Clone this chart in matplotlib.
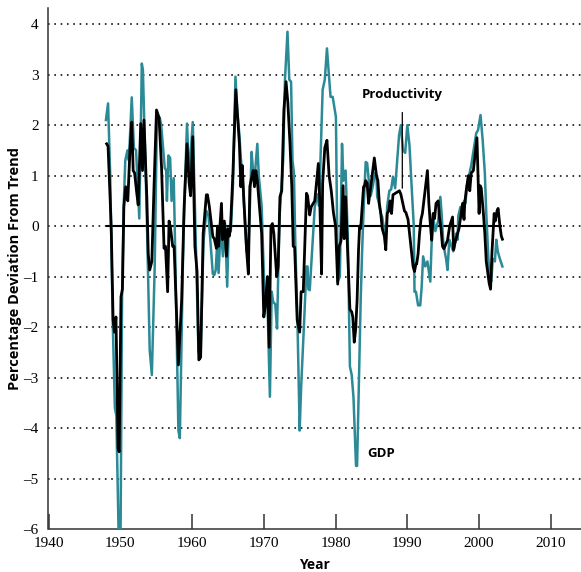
import matplotlib
matplotlib.use("Agg")
import matplotlib.pyplot as plt

# ---- data ----
gdp_years = [1948.0, 1948.3, 1948.6, 1948.95, 1949.25, 1949.45, 1949.8, 1950.0, 1950.05, 1950.25,
             1950.5, 1950.7, 1951.0, 1951.2, 1951.6, 1951.9, 1952.2, 1952.5, 1952.65, 1952.85,
             1953.0, 1953.15, 1953.7, 1954.1, 1954.4, 1954.8, 1955.1, 1955.5, 1955.7, 1956.2,
             1956.4, 1956.5, 1956.7, 1956.95, 1957.15, 1957.45, 1957.6, 1958.1, 1958.3, 1958.8,
             1959.3, 1959.6, 1960.1, 1960.4, 1960.9, 1961.2, 1961.6, 1962.0, 1962.3, 1962.9,
             1963.1, 1963.3, 1963.5, 1963.7, 1964.0, 1964.3, 1964.6, 1964.9, 1965.1, 1965.4,
             1965.7, 1966.05, 1966.3, 1966.6, 1966.8, 1967.0, 1967.3, 1967.6, 1967.85, 1968.3,
             1968.5, 1968.8, 1969.1, 1969.3, 1969.7, 1969.9, 1970.1, 1970.5, 1970.85, 1971.1,
             1971.3, 1971.6, 1971.85, 1972.0, 1972.2, 1972.7, 1972.95, 1973.2, 1973.3, 1973.55,
             1973.8, 1974.0, 1974.2, 1974.4, 1974.7, 1975.0, 1975.2, 1975.6, 1975.95, 1976.1,
             1976.2, 1976.4, 1977.1, 1977.5, 1977.7, 1978.2, 1978.5, 1978.8, 1979.3, 1979.6,
             1980.05, 1980.3, 1980.6, 1980.9, 1981.1, 1981.4, 1981.7, 1982.0, 1982.25, 1982.5,
             1982.85, 1983.0, 1983.2, 1983.5, 1983.7, 1983.9, 1984.2, 1984.4, 1984.7, 1984.9,
             1985.2, 1985.5, 1985.7, 1985.8, 1986.0, 1986.3, 1986.5, 1986.8, 1987.0, 1987.2,
             1987.5, 1987.75, 1988.0, 1988.3, 1988.85, 1989.1, 1989.4, 1989.7, 1990.0, 1990.3,
             1990.5, 1990.9, 1991.0, 1991.2, 1991.5, 1991.8, 1992.0, 1992.2, 1992.5, 1992.8,
             1993.2, 1993.4, 1993.6, 1993.9, 1994.3, 1994.6, 1994.8, 1995.0, 1995.2, 1995.4,
             1995.6, 1995.85, 1996.4, 1996.6, 1996.8, 1997.0, 1997.1, 1997.4, 1997.6, 1997.9,
             1998.1, 1998.3, 1998.6, 1998.9, 1999.6, 1999.85, 2000.2, 2000.5, 2000.8, 2001.0,
             2001.3, 2001.5, 2001.7, 2001.9, 2002.2, 2002.4, 2002.6, 2002.9, 2003.25]
gdp_values = [2.1, 2.43, 1.0, -1.9, -3.6, -3.75, -6.3, -6.3, -5.9, -1.4,
              0.5, 1.3, 1.5, 1.3, 2.55, 1.55, 1.5, 0.58, 0.15, 1.8,
              3.22, 3.1, 0.18, -2.45, -2.95, -0.8, 2.1, 2.15, 2.0, 1.15,
              1.1, 0.5, 1.4, 1.35, 0.5, 0.95, -0.1, -4.05, -4.2, -0.15,
              2.03, 1.0, 2.06, 0.4, -2.5, -2.5, -0.3, 0.3, 0.2, -0.95,
              -0.97, -0.87, -0.35, -0.93, 0.0, -0.6, 0.05, -1.2, -0.1, -0.1,
              0.8, 2.96, 2.3, 1.8, 1.35, 1.05, 0.25, -0.5, -0.6, 1.47,
              1.1, 1.1, 1.63, 1.0, 0.4, -0.5, -1.3, -1.45, -3.38, -1.3,
              -1.5, -1.55, -2.03, -1.0, 0.2, 1.3, 2.9, 3.6, 3.85, 2.9,
              2.86, 1.3, 1.05, -0.4, -1.95, -4.05, -3.2, -1.95, -0.8, -0.8,
              -1.25, -1.27, 0.38, 0.63, 0.4, 2.7, 2.9, 3.52, 2.56, 2.56,
              2.16, -1.1, -1.0, 1.63, 0.9, 1.1, -0.2, -2.78, -2.95, -3.4,
              -4.75, -4.75, -3.4, -1.47, -0.5, 0.3, 1.27, 1.25, 0.8, 0.6,
              0.8, 1.05, 1.0, 0.58, 0.48, 0.25, 0.18, -0.1, -0.3, 0.4,
              0.7, 0.73, 0.98, 0.75, 1.8, 2.0, 1.5, 1.45, 2.0, 1.6,
              1.05, 0.0, -1.3, -1.3, -1.57, -1.57, -1.2, -0.6, -0.8, -0.7,
              -1.1, -0.28, 0.18, -0.1, 0.1, 0.58, 0.2, -0.3, -0.5, -0.65,
              -0.87, -0.27, -0.5, -0.4, -0.15, -0.27, 0.2, 0.38, 0.2, 0.5,
              0.45, 0.8, 1.0, 1.2, 1.84, 1.9, 2.2, 1.7, 1.05, 0.25,
              -0.65, -1.05, -1.1, -0.65, -0.7, -0.27, -0.5, -0.65, -0.8]

prod_years = [1948.1, 1948.3, 1948.6, 1948.75, 1949.0, 1949.2, 1949.4, 1949.7, 1949.85, 1950.1,
              1950.3, 1950.5, 1950.75, 1951.05, 1951.35, 1951.6, 1951.8, 1952.0, 1952.3, 1952.5,
              1952.85, 1953.1, 1953.3, 1953.7, 1953.9, 1954.1, 1954.4, 1954.7, 1955.05, 1955.4,
              1955.75, 1956.1, 1956.3, 1956.6, 1956.8, 1957.0, 1957.3, 1957.5, 1958.1, 1958.55,
              1958.9, 1959.3, 1959.6, 1959.8, 1960.1, 1960.4, 1960.7, 1960.95, 1961.2, 1961.55,
              1962.0, 1962.15, 1962.4, 1962.9, 1963.1, 1963.4, 1963.55, 1963.7, 1964.1, 1964.25,
              1964.5, 1964.8, 1965.0, 1965.2, 1965.35, 1965.7, 1966.1, 1966.3, 1966.6, 1966.8,
              1967.0, 1967.2, 1967.6, 1967.85, 1968.05, 1968.5, 1968.7, 1968.9, 1969.1, 1969.7,
              1970.0, 1970.2, 1970.5, 1970.75, 1971.0, 1971.2, 1971.4, 1971.8, 1972.0, 1972.25,
              1972.5, 1972.8, 1973.1, 1973.35, 1973.65, 1973.9, 1974.1, 1974.3, 1974.65, 1975.0,
              1975.2, 1975.5, 1975.95, 1976.1, 1976.4, 1976.6, 1977.1, 1977.6, 1977.8, 1978.05,
              1978.2, 1978.5, 1978.8, 1979.1, 1979.4, 1979.7, 1980.0, 1980.3, 1980.5, 1980.75,
              1981.05, 1981.2, 1981.4, 1981.6, 1982.0, 1982.25, 1982.4, 1982.6, 1982.8, 1983.0,
              1983.2, 1983.35, 1983.5, 1983.7, 1983.9, 1984.0, 1984.2, 1984.4, 1984.6, 1984.85,
              1985.4, 1985.7, 1985.9, 1986.1, 1986.3, 1986.5, 1986.8, 1987.0, 1987.2, 1987.4,
              1987.6, 1987.8, 1988.0, 1988.9, 1989.1, 1989.3, 1989.6, 1989.8, 1990.1, 1990.8,
              1991.0, 1991.2, 1991.3, 1991.5, 1991.7, 1991.9, 1992.1, 1992.8, 1993.0, 1993.2,
              1993.4, 1993.6, 1993.8, 1994.0, 1994.3, 1994.5, 1994.7, 1994.9, 1995.1, 1995.4,
              1995.6, 1995.9, 1996.3, 1996.45, 1996.6, 1996.9, 1997.0, 1997.2, 1997.5, 1997.7,
              1997.9, 1998.0, 1998.2, 1998.5, 1998.7, 1998.9, 1999.2, 1999.7, 2000.0, 2000.15,
              2000.3, 2000.6, 2000.8, 2001.0, 2001.4, 2001.6, 2001.8, 2002.1, 2002.25, 2002.5,
              2002.65, 2002.9, 2003.1, 2003.25]
prod_values = [1.63, 1.58, 0.5, -0.1, -1.86, -2.1, -1.8, -4.4, -4.47, -1.4,
               -1.25, 0.38, 0.78, 0.5, 1.5, 2.06, 1.1, 1.05, 0.65, 0.42,
               2.03, 1.1, 2.1, 0.58, -0.55, -0.87, -0.7, 0.77, 2.3, 2.15,
               1.17, -0.44, -0.4, -1.3, 0.1, -0.03, -0.4, -0.4, -2.75, -1.47,
               0.38, 1.63, 0.85, 0.6, 1.77, -0.4, -0.9, -2.65, -2.6, -0.15,
               0.62, 0.62, 0.4, -0.21, -0.25, -0.44, 0.0, -0.4, 0.45, -0.27,
               0.1, -0.6, -0.05, -0.2, -0.05, 1.05, 2.7, 2.27, 1.63, 0.78,
               1.2, 0.58, -0.47, -0.95, 0.78, 1.1, 0.78, 1.1, 0.9, -0.15,
               -1.8, -1.6, -1.0, -2.4, 0.0, 0.05, -0.15, -1.0, -0.8, 0.58,
               0.7, 2.3, 2.86, 2.45, 1.63, 0.78, -0.4, -0.42, -1.86, -2.1,
               -1.3, -1.3, 0.65, 0.6, 0.22, 0.38, 0.5, 1.24, 0.5, -0.95,
               0.85, 1.55, 1.7, 1.0, 0.7, 0.27, 0.0, -1.15, -0.4, -0.3,
               0.8, -0.25, 0.58, -0.2, -1.65, -1.7, -1.8, -2.3, -2.05, -1.47,
               -0.47, 0.0, -0.05, 0.38, 0.78, 0.78, 0.9, 0.85, 0.45, 0.72,
               1.35, 1.0, 0.9, 0.45, 0.25, -0.05, -0.2, -0.47, 0.25, 0.3,
               0.5, 0.25, 0.62, 0.7, 0.63, 0.5, 0.3, 0.27, 0.13, -0.8,
               -0.9, -0.75, -0.75, -0.55, -0.15, 0.13, 0.25, 1.1, 0.45, 0.05,
               -0.28, 0.25, 0.15, 0.45, 0.5, 0.15, -0.05, -0.4, -0.45, -0.35,
               -0.28, 0.0, 0.18, -0.47, -0.35, -0.2, -0.15, -0.05, 0.25, 0.45,
               0.13, 0.45, 0.7, 1.0, 0.7, 1.05, 1.1, 1.75, 0.25, 0.8,
               0.75, 0.25, -0.15, -0.7, -1.13, -1.25, -0.5, 0.25, 0.1, 0.3,
               0.35, 0.0, -0.2, -0.26]

x_ticks = [1940, 1950, 1960, 1970, 1980, 1990, 2000, 2010]
y_ticks = [-6, -5, -4, -3, -2, -1, 0, 1, 2, 3, 4]
grid_levels = [-5, -4, -3, -2, -1, 0, 1, 2, 3, 4]

TEAL = "#2b8a96"
SERIF = ["Liberation Serif", "DejaVu Serif"]
SANS = ["Open Sans", "DejaVu Sans"]

W, H = 581, 572
fig = plt.figure(figsize=(W / 100, H / 100), dpi=100)
ax = fig.add_axes([48.5 / W, 43 / H, 1 - 48.5 / W, 521 / H])
ax.set_xlim(1940, 2014.2)
ax.set_ylim(-6, 4.32)

for g in grid_levels:
    ax.axhline(g, color="#222222", lw=1.3, dashes=(0.9, 2.6), zorder=1)

ax.plot(gdp_years, gdp_values, color=TEAL, lw=1.8, zorder=3, solid_joinstyle="round")
ax.plot(prod_years, prod_values, color="black", lw=2.0, zorder=4, solid_joinstyle="round")
ax.hlines(0, prod_years[0] - 0.1, prod_years[-1], color="black", lw=1.5, zorder=2)

for s in ["top", "right"]:
    ax.spines[s].set_visible(False)
for s in ["left", "bottom"]:
    ax.spines[s].set_color("#333333")
    ax.spines[s].set_linewidth(1.1)

ax.set_xticks(x_ticks)
ax.set_xticklabels([str(t) for t in x_ticks], fontfamily=SERIF, fontsize=11)
ax.set_yticks(y_ticks)
ax.set_yticklabels([str(t).replace("-", "\u2013") for t in y_ticks], fontfamily=SERIF, fontsize=11)
ax.tick_params(axis="x", direction="in", length=11, width=1.1, color="#333333", pad=6)
ax.tick_params(axis="y", length=0, pad=7)

fig.text(314 / W, 1 - 565 / H, "Year", fontfamily=SANS, fontweight="bold", fontsize=10,
         ha="center", va="center")
fig.text(15 / W, 1 - 269 / H, "Percentage Deviation From Trend", fontfamily=SANS,
         fontweight="bold", fontsize=10.5, rotation=90, ha="center", va="center")

ax.annotate("Productivity", xy=(1989.3, 0.75), xytext=(1989.3, 2.6),
            fontfamily=SANS, fontweight="bold", fontsize=9.5,
            ha="center", va="center", zorder=5,
            arrowprops=dict(arrowstyle="-", color="black", lw=0.9, shrinkA=6, shrinkB=0))
ax.text(1984.4, -4.5, "GDP", fontfamily=SANS, fontweight="bold", fontsize=9.5,
        ha="left", va="center", zorder=5)

fig.savefig("out.png", dpi=100)
